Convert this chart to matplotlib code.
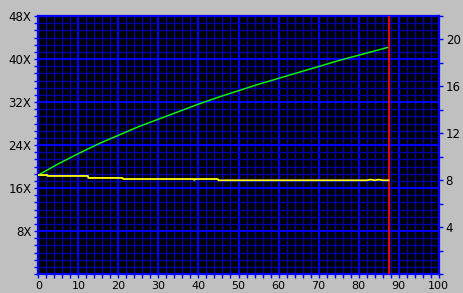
import numpy as np
import matplotlib
matplotlib.use('Agg')
import matplotlib.pyplot as plt
from matplotlib.ticker import MultipleLocator

# read speed (left axis, X) vs position
pos = [0, 5, 10, 15, 20, 25, 30, 35, 40, 45, 50, 55, 60, 65, 70, 75, 80, 85, 87.5]
speed = [18.4, 20.5, 22.4, 24.2, 25.8, 27.4, 28.8, 30.2, 31.6, 32.9, 34.1,
         35.3, 36.4, 37.5, 38.6, 39.7, 40.7, 41.7, 42.2]

# second trace (right axis)
pos2 = [0, 2.2, 2.3, 12.4, 12.5, 21, 21.2, 38.8, 39.0, 39.2, 44.8, 45.0,
        82, 83, 84, 85, 86, 87.5]
val2 = [8.44, 8.44, 8.36, 8.36, 8.19, 8.19, 8.10, 8.10, 8.02, 8.10, 8.10, 7.99,
        7.99, 8.05, 7.99, 8.05, 7.99, 7.99]

end_pos = 87.5
left_ticks = [8, 16, 24, 32, 40, 48]
left_labels = ['8X', '16X', '24X', '32X', '40X', '48X']
right_ticks = [4, 8, 12, 16, 20]
x_ticks = list(range(0, 101, 10))

bg = '#C0C0C0'
blue = '#0000FF'
dblue = '#0000A8'

fig = plt.figure(figsize=(4.63, 2.93), dpi=100, facecolor=bg)
ax = fig.add_axes([38.3 / 463, 19 / 293, 400.4 / 463, 258 / 293])
ax.set_facecolor('black')
ax.set_xlim(0, 100)
ax.set_ylim(0, 48)

ax.set_xticks(x_ticks)
ax.xaxis.set_minor_locator(MultipleLocator(2))
ax.set_yticks(left_ticks)
ax.set_yticklabels(left_labels)
ax.yaxis.set_minor_locator(MultipleLocator(4 / 3))

ax.grid(which='minor', color=dblue, lw=1.0)
ax.grid(which='major', color=blue, lw=1.5)
ax.set_axisbelow(True)

for s in ax.spines.values():
    s.set_color(blue)
    s.set_linewidth(1.6)

ax.tick_params(which='both', direction='out', color=blue, length=3, width=1,
               labelsize=8, pad=2)
ax.tick_params(axis='y', which='both', labelsize=8.5)

ax2 = ax.twinx()
ax2.set_ylim(0, 22)
ax2.set_yticks(right_ticks)
ax2.yaxis.set_minor_locator(MultipleLocator(2))
ax2.tick_params(which='both', direction='out', color=blue, length=3, width=1,
                labelsize=8.5, pad=2)
for s in ax2.spines.values():
    s.set_visible(False)

ax.plot(pos, speed, color='#10F010', lw=1.1, zorder=3)
ax2.plot(pos2, val2, color='#FFFF00', lw=1.3, zorder=3)
ax.axvline(end_pos, color='#FF0000', lw=1.3, zorder=4)

fig.savefig('out.png', dpi=100, facecolor=bg)
